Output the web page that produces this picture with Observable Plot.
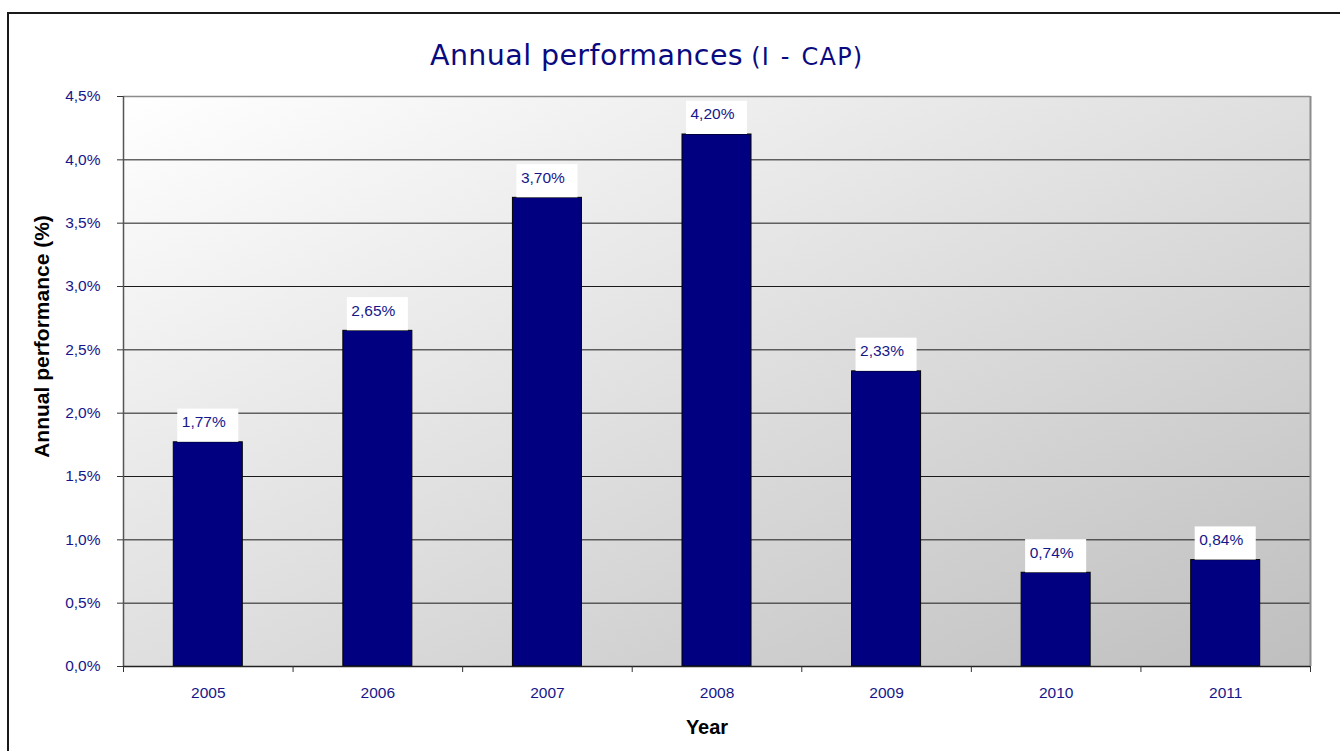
<!DOCTYPE html>
<html>
<head>
<meta charset="utf-8">
<script src="https://cdn.jsdelivr.net/npm/d3@7"></script>
<script src="https://cdn.jsdelivr.net/npm/@observablehq/plot@0.6"></script>
<style>
  html, body { margin: 0; padding: 0; background: #fff; overflow: hidden; }
  #wrap { position: relative; width: 1340px; height: 751px; overflow: hidden; }
  #frame { position: absolute; left: 7px; top: 12px; width: 1400px; height: 800px;
           border-left: 2px solid #1a1a1a; border-top: 2px solid #1a1a1a; pointer-events: none; }
  #title { position: absolute; left: 430px; top: 42px; white-space: nowrap;
           font-family: "DejaVu Sans", Verdana, sans-serif; color: #0a0a80; line-height: 27px; }
  #title .main { font-size: 28.5px; letter-spacing: 0.4px; }
  #title .sub { font-size: 24px; letter-spacing: 1.2px; word-spacing: 2px; margin-left: 3px; }
  svg { position: absolute; left: 0; top: 0; }
</style>
</head>
<body>
<div id="wrap">
  <div id="chart"></div>
  <div id="frame"></div>
  <div id="title"><span class="main">Annual performances</span> <span class="sub">(I - CAP)</span></div>
</div>
<script>
const years = [2005, 2006, 2007, 2008, 2009, 2010, 2011];
const values = [1.77, 2.65, 3.70, 4.20, 2.33, 0.74, 0.84];
const yTicks = [0, 0.5, 1.0, 1.5, 2.0, 2.5, 3.0, 3.5, 4.0, 4.5];

const data = years.map((year, i) => ({year, value: values[i]}));
const boundaries = years.map(y => y - 0.5).concat([years[years.length - 1] + 0.5]);
const xDomain = [boundaries[0], boundaries[boundaries.length - 1]];
const yMax = yTicks[yTicks.length - 1];

const navy = "#000080";
const labelNavy = "#16168a";
const font = "'Liberation Sans', Arial, sans-serif";
const halfBar = 0.2035;
const halfBox = 0.18;
const boxH = 0.262;

const fmtPct = (v, d) => v.toFixed(d).replace(".", ",") + "%";

const plot = Plot.plot({
  width: 1340,
  height: 751,
  marginLeft: 123,
  marginRight: 30,
  marginTop: 96,
  marginBottom: 85,
  style: {background: "transparent", fontFamily: font},
  x: {type: "linear", domain: xDomain, axis: null, label: null},
  y: {domain: [0, yMax], axis: null, label: null},
  marks: [
    Plot.frame({fill: "url(#bggrad)", stroke: null}),
    Plot.ruleY(yTicks.filter(t => t > 0 && t < yMax), {stroke: "#1a1a1a", strokeWidth: 1}),
    Plot.ruleY([yMax], {stroke: "#8c8c8c", strokeWidth: 1.5}),
    Plot.ruleX([xDomain[1]], {stroke: "#8c8c8c", strokeWidth: 2}),
    Plot.rect(data, {
      x1: d => d.year - halfBar, x2: d => d.year + halfBar,
      y1: 0, y2: "value",
      fill: navy, stroke: "#000", strokeWidth: 1
    }),
    Plot.rect(data, {
      x1: d => d.year - halfBox, x2: d => d.year + halfBox,
      y1: "value", y2: d => d.value + boxH,
      fill: "#fff"
    }),
    Plot.text(data, {
      x: "year", y: "value",
      text: d => fmtPct(d.value, 2),
      textAnchor: "start", dx: -26.5, dy: -20,
      fill: labelNavy, fontSize: 15.5, fontFamily: font
    }),
    Plot.ruleX([xDomain[0]], {stroke: "#555", strokeWidth: 1.5}),
    Plot.ruleY([0], {stroke: "#222", strokeWidth: 1.5}),
    Plot.axisY({
      ticks: yTicks, tickSize: 6, tickPadding: 17, label: null,
      tickFormat: d => fmtPct(d, 1),
      stroke: "#333", fill: labelNavy, fontSize: 15.5, fontFamily: font
    }),
    Plot.axisX({
      ticks: boundaries, tickSize: 6, tickFormat: () => "", label: null,
      stroke: "#333"
    }),
    Plot.axisX({
      ticks: years, tickSize: 0, tickPadding: 20, label: null,
      tickFormat: d => String(d),
      fill: labelNavy, fontSize: 15.5, fontFamily: font
    }),
    Plot.text(["Year"], {
      frameAnchor: "bottom", dy: 67, dx: -10,
      text: d => d, fontWeight: "bold", fontSize: 20, fill: "#000", fontFamily: font,
      lineAnchor: "bottom", textAnchor: "middle"
    }),
    Plot.text(["Annual performance (%)"], {
      frameAnchor: "left", dx: -75, dy: -45, rotate: -90,
      text: d => d, fontWeight: "bold", fontSize: 21, fill: "#000", fontFamily: font,
      lineAnchor: "bottom", textAnchor: "middle"
    })
  ]
});

const ns = "http://www.w3.org/2000/svg";
const defs = document.createElementNS(ns, "defs");
const grad = document.createElementNS(ns, "linearGradient");
grad.setAttribute("id", "bggrad");
grad.setAttribute("x1", "0"); grad.setAttribute("y1", "0");
grad.setAttribute("x2", "1"); grad.setAttribute("y2", "1");
[["0", "#ffffff"], ["1", "#bfbfbf"]].forEach(([o, c]) => {
  const s = document.createElementNS(ns, "stop");
  s.setAttribute("offset", o); s.setAttribute("stop-color", c);
  grad.appendChild(s);
});
defs.appendChild(grad);
plot.insertBefore(defs, plot.firstChild);

document.getElementById("chart").appendChild(plot);
</script>
</body>
</html>
